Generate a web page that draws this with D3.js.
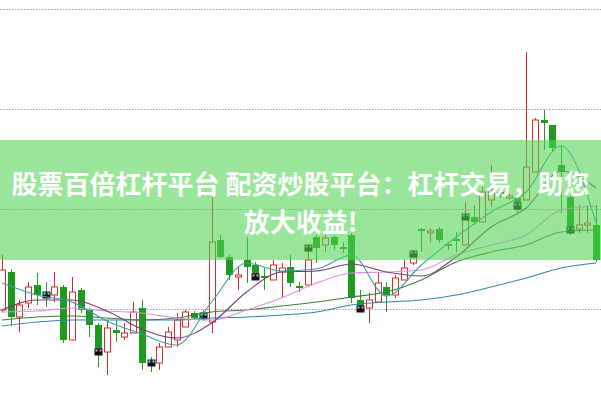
<!DOCTYPE html>
<html><head><meta charset="utf-8">
<script src="https://cdn.jsdelivr.net/npm/d3@7"></script>
<style>html,body{margin:0;padding:0;background:#fff;overflow:hidden}svg{display:block}</style>
</head><body>
<svg id="c" width="601" height="400"></svg>
<script>
// ---- data (prices) ----
const opens  = [0.99,1.37,0.92,1.06,1.24,1.16,1.14,1.22,0.69,1.19, 0.99,0.84,0.57,0.79,0.72,0.76,1.01,0.47,0.46,0.62, 0.69,0.82,0.96,0.95,0.87,1.69,1.52,1.32,1.49,1.44, 1.33,1.29,1.37,1.42,1.23,1.24,1.72,1.64,1.72,1.62, 1.74,1.09,1.01,1.07,1.22,1.14,1.29,1.46,1.80,1.76, 1.80,1.65,1.70,1.64,1.92,1.87,2.09,2.17,2.11,2.11, 2.09,2.37,2.89,2.84,2.44,2.12,1.80,1.84,1.84];
const closes = [1.39,0.92,1.04,1.22,1.14,1.13,1.22,0.69,1.17,0.99, 0.84,0.59,0.81,0.76,0.76,0.97,0.46,0.45,0.62,0.77, 0.89,0.97,0.91,0.91,1.67,1.52,1.34,1.34,1.42,1.34, 1.31,1.44,1.41,1.26,1.21,1.49,1.61,1.71,1.64,1.60, 1.11,1.02,1.09,1.26,1.14,1.31,1.41,1.52,1.78,1.78, 1.69,1.63,1.68,1.91,1.87,2.17,2.19,2.13,2.13,1.99, 2.42,2.89,2.86,2.61,2.37,1.76,1.84,1.86,1.49];
const highs  = [1.54,1.40,1.09,1.27,1.36,1.27,1.37,1.24,1.32,1.21, 1.01,0.86,0.89,0.89,0.86,1.07,1.09,0.52,0.66,0.82, 0.96,0.99,0.98,0.99,2.19,1.74,1.54,1.42,1.72,1.47, 1.41,1.49,1.46,1.54,1.27,1.64,1.74,1.74,1.74,1.67, 1.76,1.19,1.16,1.37,1.27,1.34,1.49,1.59,1.81,1.81, 1.82,1.67,1.77,2.07,2.04,2.22,2.44,2.21,2.15,2.14, 3.57,2.91,2.99,2.84,2.64,2.36,2.04,2.04,2.04];
const lows   = [0.97,0.83,0.77,1.01,1.04,1.02,1.07,0.66,0.69,0.96, 0.72,0.42,0.34,0.67,0.69,0.76,0.39,0.37,0.39,0.62, 0.62,0.82,0.89,0.88,0.76,1.51,1.29,1.19,1.26,1.29, 1.19,1.29,1.12,1.22,1.17,1.24,1.46,1.57,1.59,1.56, 1.06,0.97,0.86,1.07,0.97,1.11,1.29,1.44,1.57,1.67, 1.66,1.59,1.57,1.64,1.84,1.87,2.02,2.11,2.09,1.96, 2.09,2.37,2.59,2.57,1.96,1.74,1.76,1.76,1.47];

const markerIdx = [5,11,17,23,29,35,41,47,53,59,65];
const markerVal = [1.14,0.57,0.46,0.93,1.32,1.61,1.00,1.55,1.92,2.03,1.79];
const markerTint = ["#66eeee","#ff88ff","#66eeee","#66eeee","#ff88ff","#66ee66","#ff88ff","#66ee66","#66ee66","#bbbbbb","#66ee66"];

const maIdx = [0,4,8,12,16,20,24,28,32,36,40,44,48,52,56,60,64,68];
const ma5  = [1.26,1.14,1.07,0.88,0.75,0.64,1.07,1.46,1.38,1.40,1.54,1.13,1.44,1.72,1.97,2.17,2.63,1.86];
const ma10 = [0.99,1.09,1.09,0.98,0.80,0.71,0.86,1.17,1.37,1.38,1.45,1.37,1.33,1.52,1.82,2.01,2.38,2.21];
const ma20 = [0.97,0.98,1.01,0.98,0.96,0.91,0.89,0.99,1.11,1.26,1.36,1.37,1.39,1.54,1.64,1.74,1.99,2.03];
const ma30 = [0.89,0.92,0.93,0.91,0.89,0.91,0.97,0.99,1.03,1.07,1.12,1.17,1.29,1.47,1.57,1.64,1.77,1.79];
const ma60 = [0.83,0.87,0.89,0.89,0.89,0.89,0.91,0.92,0.94,0.97,1.04,1.07,1.09,1.14,1.22,1.31,1.41,1.46];

const gridTicks = [1,2,3,4];
const bannerLines = ["股票百倍杠杆平台 配资炒股平台：杠杆交易，助您", "放大收益!"];

// ---- drawing ----
const W = 601, H = 400;
const svg = d3.select("#c");
const x = d3.scaleLinear().domain([0, opens.length - 1]).range([2, 596]);
const y = d3.scaleLinear().domain([0, 4]).range([409, 9]);
const bodyW = 6;

svg.append("rect").attr("width", W).attr("height", H).attr("fill", "#fff");

svg.append("g").selectAll("line").data(gridTicks).join("line")
  .attr("x1", 0).attr("x2", W)
  .attr("y1", d => Math.round(y(d)) + 0.5).attr("y2", d => Math.round(y(d)) + 0.5)
  .attr("stroke", "#a0a0a0").attr("stroke-width", 1).attr("stroke-dasharray", "1.5,1.5");

const candles = opens.map((o, i) => ({i, o, c: closes[i], h: highs[i], l: lows[i]}));
const RED = "#d42c2c", GREEN = "#1e9a1e";
const cg = svg.append("g");
candles.forEach(d => {
  const up = d.c >= d.o;
  const col = up ? RED : GREEN;
  const cx = Math.round(x(d.i)) + 0.5;
  cg.append("line").attr("x1", cx).attr("x2", cx).attr("y1", y(d.h)).attr("y2", y(d.l))
    .attr("stroke", col).attr("stroke-width", 1);
  const top = y(Math.max(d.o, d.c)), bot = y(Math.min(d.o, d.c));
  const hgt = Math.max(1, bot - top);
  if (up) {
    cg.append("rect").attr("x", cx - bodyW / 2).attr("y", top).attr("width", bodyW).attr("height", hgt)
      .attr("fill", "#fff").attr("stroke", col).attr("stroke-width", 1);
  } else {
    cg.append("rect").attr("x", cx - bodyW / 2 - 0.5).attr("y", top).attr("width", bodyW + 1).attr("height", hgt)
      .attr("fill", col);
  }
});

// markers
markerIdx.forEach((mi, k) => {
  const cx = Math.round(x(mi)) + 0.5;
  const cy = y(markerVal[k]);
  cg.append("rect").attr("x", cx - 4).attr("y", cy - 3.5).attr("width", 8).attr("height", 7).attr("fill", "#111");
  cg.append("rect").attr("x", cx - 3).attr("y", cy - 2.5).attr("width", 2).attr("height", 2).attr("fill", markerTint[k]);
  cg.append("rect").attr("x", cx + 1).attr("y", cy - 2.5).attr("width", 2).attr("height", 2).attr("fill", markerTint[k]);
});

// moving averages
const line = d3.line().x(d => x(d[0])).y(d => y(d[1])).curve(d3.curveMonotoneX);
const mas = [
  {v: ma60, c: "#2f86a6"},
  {v: ma30, c: "#3c7d3c"},
  {v: ma20, c: "#e48ee4"},
  {v: ma10, c: "#7b3f74"},
  {v: ma5,  c: "#3e9ea8"}
];
svg.append("g").selectAll("path").data(mas).join("path")
  .attr("d", m => line(maIdx.map((ix, k) => [ix, m.v[k]])))
  .attr("fill", "none").attr("stroke", m => m.c).attr("stroke-width", 1.1);

// banner overlay
svg.append("rect").attr("x", 0).attr("y", 140).attr("width", W).attr("height", 120)
  .attr("fill", "rgb(80,210,80)").attr("fill-opacity", 0.585);

svg.append("g").selectAll("text").data(bannerLines).join("text")
  .attr("x", 300.5).attr("y", (d, i) => 182 + i * 38)
  .attr("text-anchor", "middle").attr("dominant-baseline", "central")
  .attr("font-family", "'Noto Sans CJK SC','Noto Sans',sans-serif")
  .attr("font-weight", "bold").attr("font-size", 26).attr("fill", "#fff")
  .text(d => d);
</script>
</body></html>
